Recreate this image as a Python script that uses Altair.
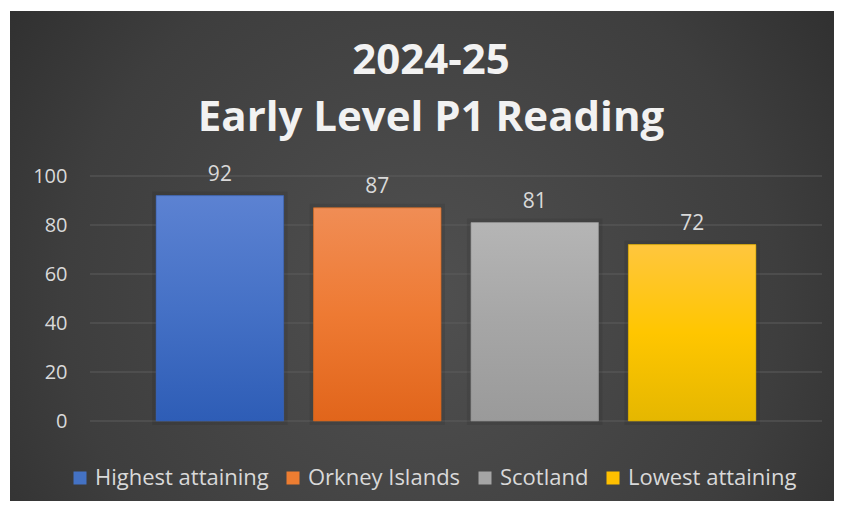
import altair as alt
import pandas as pd

# ---- data ----
title_lines = ["2024-25", "Early Level P1 Reading"]
series = ["Highest attaining", "Orkney Islands", "Scotland", "Lowest attaining"]
values = [92, 87, 81, 72]
y_ticks = [0, 20, 40, 60, 80, 100]

# ---- styles ----
FONT = "Open Sans"
base_colors = ["#4472C4", "#ED7D31", "#A5A5A5", "#FFC000"]
grad_stops = [
    ["#5c82d2", "#4571c6", "#2e5db6"],
    ["#f08d55", "#ee7a33", "#e1651b"],
    ["#b5b5b5", "#a6a6a6", "#9a9a9a"],
    ["#ffc63e", "#ffc600", "#e5b700"],
]
edge_colors = ["#3a5fa8", "#c8661f", "#8a8a8a", "#c9a000"]

W, H = 732, 245
PAD = {"left": 82, "top": 168, "right": 12, "bottom": 80}

df = pd.DataFrame({"series": series, "value": values})
grid_df = pd.DataFrame({"tick": y_ticks})
one = pd.DataFrame({"a": [0]})

x_enc = alt.X(
    "series:N",
    sort=series,
    axis=None,
    scale=alt.Scale(paddingInner=0.19, paddingOuter=0.42),
)
y_scale = alt.Scale(domain=[0, 100], nice=False)
yaxis = alt.Axis(
    values=y_ticks,
    title=None,
    grid=False,
    domain=False,
    ticks=False,
    labelFont=FONT,
    labelFontSize=20,
    labelColor="#d9d9d9",
    labelPadding=23,
    zindex=1,
)

bg_grad = {
    "gradient": "radial",
    "x1": 0.5, "y1": 0.55, "r1": 0,
    "x2": 0.5, "y2": 0.55, "r2": 0.72,
    "stops": [
        {"offset": 0, "color": "#505050"},
        {"offset": 0.6, "color": "#3e3e3e"},
        {"offset": 1, "color": "#282828"},
    ],
}

bg = alt.Chart(one).mark_rect(fill=bg_grad).encode(
    x=alt.value(-80), x2=alt.value(W + PAD["right"]),
    y=alt.value(-165), y2=alt.value(H + PAD["bottom"]),
)

# two-line chart title as text marks
title_layers = []
title_y = [-102, -45]
for line, ty in zip(title_lines, title_y):
    title_layers.append(
        alt.Chart(one).mark_text(
            font=FONT, fontSize=42, fontWeight="bold", color="#f2f2f2",
            align="center", baseline="alphabetic",
        ).encode(x=alt.value(341), y=alt.value(ty), text=alt.value(line))
    )

grid = alt.Chart(grid_df).mark_rule(color="#5c5c5c", strokeWidth=1).encode(
    y=alt.Y("tick:Q", scale=y_scale, axis=yaxis),
    x=alt.value(0),
    x2=alt.value(W),
)

shadow = alt.Chart(df).mark_bar(
    fill="#000000", fillOpacity=0.2, stroke="#000000", strokeOpacity=0.08, strokeWidth=8
).encode(
    x=x_enc,
    y=alt.Y("value:Q", scale=y_scale, axis=yaxis),
)

base = alt.Chart(df).mark_bar().encode(
    x=x_enc,
    y=alt.Y("value:Q", scale=y_scale, axis=yaxis),
    color=alt.Color(
        "series:N",
        sort=series,
        scale=alt.Scale(domain=series, range=base_colors),
        legend=alt.Legend(
            orient="none",
            legendX=-21,
            legendY=291,
            direction="horizontal",
            title=None,
            symbolType="square",
            symbolSize=169,
            symbolStrokeWidth=0,
            labelFont=FONT,
            labelFontSize=22,
            labelColor="#d9d9d9",
            labelOffset=4,
            columnPadding=13,
            padding=0,
            labelLimit=400,
        ),
    ),
)

grad_layers = []
for name, stops, edge in zip(series, grad_stops, edge_colors):
    g = {
        "gradient": "linear",
        "x1": 0, "y1": 0, "x2": 0, "y2": 1,
        "stops": [
            {"offset": 0, "color": stops[0]},
            {"offset": 0.5, "color": stops[1]},
            {"offset": 1, "color": stops[2]},
        ],
    }
    grad_layers.append(
        alt.Chart(df)
        .transform_filter(alt.datum.series == name)
        .mark_bar(fill=g, stroke=edge, strokeWidth=1, strokeOpacity=0.6)
        .encode(x=x_enc, y=alt.Y("value:Q", scale=y_scale, axis=yaxis))
    )

labels = alt.Chart(df).mark_text(
    font=FONT, fontSize=21, color="#d9d9d9", baseline="alphabetic", dy=-15
).encode(
    x=x_enc,
    y=alt.Y("value:Q", scale=y_scale, axis=yaxis),
    text=alt.Text("value:Q"),
)

chart = (
    alt.layer(bg, grid, shadow, base, *grad_layers, labels, *title_layers)
    .properties(
        width=W,
        height=H,
        padding=PAD,
        autosize=alt.AutoSizeParams(type="none"),
    )
    .configure(background="white")
    .configure_view(strokeWidth=0)
)

chart.save("out.html", embed_options={"renderer": "svg", "actions": False})
